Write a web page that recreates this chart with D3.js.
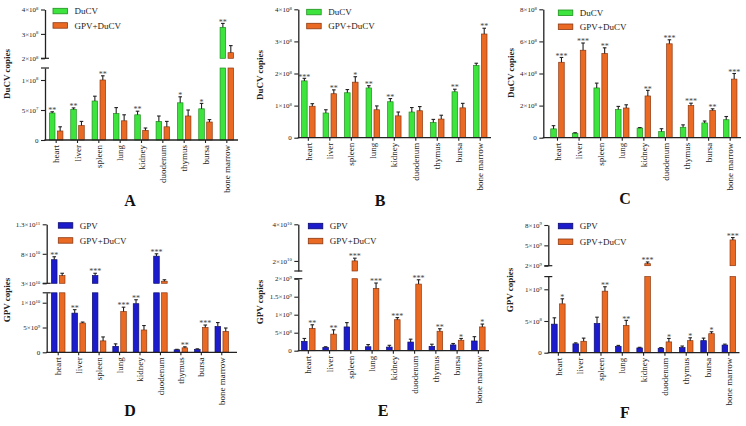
<!DOCTYPE html>
<html><head><meta charset="utf-8">
<script src="https://cdn.jsdelivr.net/npm/d3@7"></script>
<style>body{margin:0;background:#fff;} svg{display:block;font-family:"Liberation Serif","DejaVu Serif",serif;}</style>
</head><body>
<svg id="chart" width="746" height="426"></svg>
<script>
// ---------- DATA ----------
const organs = ["heart","liver","spleen","lung","kidney","duodenum","thymus","bursa","bone marrow"];

// Panel A (DuCV copies)
const aDuCV    = [4.5e7, 5.1e7, 6.5e7, 4.4e7, 4.2e7, 3.1e7, 6.2e7, 5.2e7, 3.27e8];
const aDuCVErr = [0.2e7, 0.25e7, 0.8e7, 1.0e7, 0.6e7, 0.9e7, 1.0e7, 0.9e7, 0.16e8];
const aCo      = [1.5e7, 2.4e7, 1.0e8, 3.2e7, 1.6e7, 2.2e7, 4.0e7, 3.0e7, 2.23e8];
const aCoErr   = [0.7e7, 0.7e7, 0.07e8, 1.0e7, 0.4e7, 0.9e7, 1.0e7, 0.4e7, 0.29e8];
const aSig1    = ["**","**","","","**","","*","*","**"];
const aSig2    = ["","","**","","","","","",""];
const aTicksLower = [0, 5e7, 1e8];
const aTicksUpper = [2e8, 3e8, 4e8];

// Panel B (DuCV copies)
const bDuCV    = [1.77e8, 0.77e8, 1.4e8, 1.55e8, 1.12e8, 0.8e8, 0.47e8, 1.43e8, 2.25e8];
const bDuCVErr = [0.08e8, 0.1e8, 0.1e8, 0.07e8, 0.1e8, 0.14e8, 0.1e8, 0.08e8, 0.07e8];
const bCo      = [0.98e8, 1.37e8, 1.73e8, 0.87e8, 0.68e8, 0.84e8, 0.58e8, 0.93e8, 3.23e8];
const bCoErr   = [0.08e8, 0.12e8, 0.17e8, 0.12e8, 0.12e8, 0.13e8, 0.12e8, 0.14e8, 0.18e8];
const bSig1    = ["***","","","**","**","","","**",""];
const bSig2    = ["","**","*","","","","","","**"];
const bTicks   = [0, 1e8, 2e8, 3e8, 4e8];

// Panel C (DuCV copies)
const cDuCV    = [0.55e8, 0.28e8, 3.1e8, 1.75e8, 0.6e8, 0.38e8, 0.65e8, 0.92e8, 1.12e8];
const cDuCVErr = [0.2e8, 0.03e8, 0.3e8, 0.2e8, 0.03e8, 0.18e8, 0.15e8, 0.12e8, 0.2e8];
const cCo      = [4.7e8, 5.45e8, 5.25e8, 1.85e8, 2.6e8, 5.85e8, 2.0e8, 1.7e8, 3.65e8];
const cCoErr   = [0.3e8, 0.45e8, 0.35e8, 0.2e8, 0.35e8, 0.25e8, 0.15e8, 0.1e8, 0.35e8];
const cSig1    = ["","","","","","","","",""];
const cSig2    = ["***","***","**","","**","***","***","**","***"];
const cTicks   = [0, 2e8, 4e8, 6e8, 8e8];

// Panel D (GPV copies)
const dGPV     = [7.0e10, 7.9e9, 4.3e10, 1.2e9, 9.8e9, 7.6e10, 0.5e9, 0.6e9, 5.2e9];
const dGPVErr  = [0.5e10, 0.7e9, 0.4e10, 0.5e9, 0.8e9, 0.4e10, 0.1e9, 0.1e9, 0.8e9];
const dCo      = [4.3e10, 5.9e9, 2.3e9, 8.2e9, 4.5e9, 3.35e10, 0.9e9, 5.0e9, 4.2e9];
const dCoErr   = [0.4e10, 0.2e9, 0.8e9, 0.9e9, 0.9e9, 0.25e10, 0.2e9, 0.5e9, 0.7e9];
const dSig1    = ["**","**","***","","**","***","","",""];
const dSig2    = ["","","","***","","","**","***",""];
const dTicksLower = [0, 5e9, 1e10];
const dTicksUpper = [3e10, 8e10, 1.3e11];

// Panel E (GPV copies)
const eGPV     = [2.6e8, 0.9e8, 6.6e8, 1.1e8, 1.0e8, 2.4e8, 1.2e8, 1.6e8, 2.7e8];
const eGPVErr  = [0.8e8, 0.2e8, 1.2e8, 0.6e8, 0.5e8, 0.8e8, 0.6e8, 0.4e8, 1.2e8];
const eCo      = [6.2e8, 4.6e8, 2.0e10, 1.73e9, 8.6e8, 1.85e9, 5.4e8, 2.9e8, 6.6e8];
const eCoErr   = [1.0e8, 1.2e8, 0.15e10, 1.5e8, 0.6e8, 1.2e8, 0.7e8, 0.5e8, 0.8e8];
const eSig1    = ["","","","","","","","",""];
const eSig2    = ["**","**","***","***","***","***","**","*","*"];
const eTicksLower = [0, 5e8, 1e9, 1.5e9, 2e9];
const eTicksUpper = [2e10, 4e10];

// Panel F (GPV copies)
const fGPV     = [4.5e8, 1.4e8, 4.6e8, 1.0e8, 0.75e8, 0.7e8, 0.8e8, 1.9e8, 1.2e8];
const fGPVErr  = [1.0e8, 0.15e8, 1.0e8, 0.15e8, 0.1e8, 0.1e8, 0.25e8, 0.4e8, 0.15e8];
const fCo      = [7.7e8, 1.8e8, 9.7e8, 4.3e8, 2.3e9, 1.7e8, 1.9e8, 3.0e8, 5.8e9];
const fCoErr   = [0.8e8, 0.5e8, 0.7e8, 0.8e8, 0.25e9, 0.55e8, 0.45e8, 0.3e8, 0.35e9];
const fSig1    = ["","","","","","","","",""];
const fSig2    = ["*","","**","**","***","*","*","*","***"];
const fTicksLower = [0, 5e8, 1e9];
const fTicksUpper = [2e9, 5e9, 8e9];

// ---------- STYLE ----------
const GREEN = {fill:"#3ee43e", stroke:"#1f8f1f"};
const ORANGE = {fill:"#ea6a24", stroke:"#8c3812"};
const BLUE = {fill:"#1c1ccc", stroke:"#0b0b6e"};
const INK = "#222";

// ---------- LAYOUT ----------
const panels = [
  {letter:"A", yx:45, band:[45.5,237.5], axisEnd:238,
   lowerDom:[0,1.2e8], lowerRange:[140,68], upperDom:[2e8,4e8], upperRange:[58.3,9.5],
   ticksLower:aTicksLower, ticksUpper:aTicksUpper,
   title:"DuCV copies", titlePos:[7,74], letterPos:[130,206], legX:53, legY:[8.3,22.7],
   series:[{name:"DuCV", v:aDuCV, e:aDuCVErr, s:aSig1, c:GREEN},{name:"GPV+DuCV", v:aCo, e:aCoErr, s:aSig2, c:ORANGE}]},
  {letter:"B", yx:298.3, band:[297.6,491], axisEnd:491,
   lowerDom:[0,4e8], lowerRange:[137.7,9.3], ticksLower:bTicks,
   title:"DuCV copies", titlePos:[259.5,75], letterPos:[380,206], legX:306.7, legY:[9.3,23.3],
   series:[{name:"DuCV", v:bDuCV, e:bDuCVErr, s:bSig1, c:GREEN},{name:"GPV+DuCV", v:bCo, e:bCoErr, s:bSig2, c:ORANGE}]},
  {letter:"C", yx:543.3, band:[546.7,741], axisEnd:741,
   lowerDom:[0,8e8], lowerRange:[137.7,9.3], ticksLower:cTicks,
   title:"DuCV copies", titlePos:[511,73], letterPos:[625,204], legX:558.3, legY:[10,24],
   series:[{name:"DuCV", v:cDuCV, e:cDuCVErr, s:cSig1, c:GREEN},{name:"GPV+DuCV", v:cCo, e:cCoErr, s:cSig2, c:ORANGE}]},
  {letter:"D", yx:46.7, band:[48,232], axisEnd:237,
   lowerDom:[0,1.2e10], lowerRange:[352.3,292.8], upperDom:[3e10,1.3e11], upperRange:[283.3,224.3],
   ticksLower:dTicksLower, ticksUpper:dTicksUpper,
   title:"GPV copies", titlePos:[7,300], letterPos:[130,416], legX:58.3, legY:[222.7,237.7],
   series:[{name:"GPV", v:dGPV, e:dGPVErr, s:dSig1, c:BLUE},{name:"GPV+DuCV", v:dCo, e:dCoErr, s:dSig2, c:ORANGE}]},
  {letter:"E", yx:298.3, band:[297.7,489], axisEnd:489,
   lowerDom:[0,2e9], lowerRange:[350.7,278.7], upperDom:[1.45e10,4e10], upperRange:[271,224.3],
   ticksLower:eTicksLower, ticksUpper:eTicksUpper,
   title:"GPV copies", titlePos:[259.5,302], letterPos:[383,416], legX:308.3, legY:[223.3,238.3],
   series:[{name:"GPV", v:eGPV, e:eGPVErr, s:eSig1, c:BLUE},{name:"GPV+DuCV", v:eCo, e:eCoErr, s:eSig2, c:ORANGE}]},
  {letter:"F", yx:548.3, band:[547.7,739.5], axisEnd:739.5,
   lowerDom:[0,1.2e9], lowerRange:[352.7,276.6], upperDom:[2e9,8e9], upperRange:[265.7,225],
   ticksLower:fTicksLower, ticksUpper:fTicksUpper,
   title:"GPV copies", titlePos:[510,290], letterPos:[625,418], legX:558.3, legY:[223.3,239],
   series:[{name:"GPV", v:fGPV, e:fGPVErr, s:fSig1, c:BLUE},{name:"GPV+DuCV", v:fCo, e:fCoErr, s:fSig2, c:ORANGE}]}
];

const svg = d3.select("#chart");

function sciLabel(textSel, d) {
  textSel.text(null);
  if (d === 0) { textSel.text("0"); return; }
  const e = Math.floor(Math.log10(d) + 1e-9);
  const m = +(d / Math.pow(10, e)).toFixed(1);
  textSel.append("tspan").text(m + "×10");
  textSel.append("tspan").attr("dy", "-0.5em").attr("font-size", "4.8px").text(e);
}

function styleYAxis(g) {
  g.select(".domain").attr("stroke", INK).attr("stroke-width", 1.3);
  g.selectAll(".tick line").attr("stroke", INK).attr("stroke-width", 1.1);
  g.selectAll(".tick text").attr("font-size", "7px").attr("fill", INK)
    .attr("font-family", "'Liberation Serif','DejaVu Serif',serif")
    .each(function(d){ sciLabel(d3.select(this), d); });
}

function drawPanel(p) {
  const g = svg.append("g");
  const x = d3.scaleBand().domain(organs).range(p.band).paddingInner(0).paddingOuter(0);
  const sub = d3.scaleBand().domain([0,1]).range([-6.75,6.75]).paddingInner(0.3);
  const yL = d3.scaleLinear().domain(p.lowerDom).range(p.lowerRange);
  const yU = p.upperDom ? d3.scaleLinear().domain(p.upperDom).range(p.upperRange) : null;
  const yPos = v => (yU && v > p.lowerDom[1]) ? yU(Math.max(v, p.upperDom[0])) : yL(v);

  // bars, error bars, significance marks
  p.series.forEach((s, si) => {
    const bw = sub.bandwidth();
    s.v.forEach((v, i) => {
      const cx = x(organs[i]) + x.bandwidth()/2;
      const bx = cx + sub(si);
      const vl = Math.min(v, p.lowerDom[1]);
      g.append("rect").attr("x", bx).attr("y", yL(vl)).attr("width", bw)
        .attr("height", yL(0) - yL(vl)).attr("fill", s.c.fill)
        .attr("stroke", s.c.stroke).attr("stroke-width", 0.7);
      if (yU && v > p.lowerDom[1]) {
        g.append("rect").attr("x", bx).attr("y", yU(v)).attr("width", bw)
          .attr("height", yU(p.upperDom[0]) - yU(v)).attr("fill", s.c.fill)
          .attr("stroke", s.c.stroke).attr("stroke-width", 0.7);
      }
      const mx = bx + bw/2;
      const y1 = yPos(v), y2 = yPos(v + s.e[i]);
      g.append("line").attr("x1", mx).attr("x2", mx).attr("y1", y1).attr("y2", y2)
        .attr("stroke", INK).attr("stroke-width", 1.1);
      g.append("line").attr("x1", mx-1.8).attr("x2", mx+1.8).attr("y1", y2).attr("y2", y2)
        .attr("stroke", INK).attr("stroke-width", 1.1);
      if (s.s[i]) {
        g.append("text").attr("x", mx).attr("y", y2 + 1.2).attr("text-anchor", "middle")
          .attr("font-size", "8px").attr("fill", "#444").text(s.s[i]);
      }
    });
  });

  // y axes (broken where needed)
  const ga = g.append("g").attr("transform", `translate(${p.yx},0)`)
    .call(d3.axisLeft(yL).tickValues(p.ticksLower).tickSize(4).tickSizeOuter(0).tickPadding(2.5));
  styleYAxis(ga);
  if (yU) {
    const gu = g.append("g").attr("transform", `translate(${p.yx},0)`)
      .call(d3.axisLeft(yU).tickValues(p.ticksUpper).tickSize(4).tickSizeOuter(0).tickPadding(2.5));
    styleYAxis(gu);
    [yL(p.lowerDom[1]), yU(p.upperDom[0])].forEach(yy => {
      g.append("line").attr("x1", p.yx-4).attr("x2", p.yx+4).attr("y1", yy).attr("y2", yy)
        .attr("stroke", INK).attr("stroke-width", 1.2);
    });
  }

  // x axis
  const axisY = yL(0);
  const gx = g.append("g").attr("transform", `translate(0,${axisY})`)
    .call(d3.axisBottom(x).tickSize(3).tickSizeOuter(0).tickFormat(""));
  gx.select(".domain").remove();
  gx.selectAll(".tick line").attr("stroke", INK).attr("stroke-width", 1.1);
  g.append("line").attr("x1", p.yx - 0.6).attr("x2", p.axisEnd).attr("y1", axisY).attr("y2", axisY)
    .attr("stroke", INK).attr("stroke-width", 1.3);
  g.selectAll(null).data(organs).enter().append("text")
    .attr("transform", d => `translate(${x(d) + x.bandwidth()/2},${axisY + 5}) rotate(-90)`)
    .attr("text-anchor", "end").attr("dy", "0.35em")
    .attr("font-size", "9px").attr("fill", INK).text(d => d);

  // y title
  g.append("text").attr("transform", `translate(${p.titlePos[0]},${p.titlePos[1]}) rotate(-90)`)
    .attr("text-anchor", "middle").attr("dy", "0.35em").attr("font-size", "9px")
    .attr("font-weight", "bold").attr("fill", INK).text(p.title);

  // legend
  p.series.forEach((s, si) => {
    const ly = p.legY[si];
    g.append("rect").attr("x", p.legX).attr("y", ly).attr("width", 14.5).attr("height", 5.5)
      .attr("fill", s.c.fill).attr("stroke", s.c.stroke).attr("stroke-width", 0.8);
    g.append("text").attr("x", p.legX + 21.5).attr("y", ly + 2.75).attr("dy", "0.35em")
      .attr("font-size", "9px").attr("fill", INK).text(s.name);
  });

  // panel letter
  g.append("text").attr("x", p.letterPos[0]).attr("y", p.letterPos[1]).attr("text-anchor", "middle")
    .attr("font-size", "16px").attr("font-weight", "bold").attr("fill", "#111").text(p.letter);
}

panels.forEach(drawPanel);
</script>
</body></html>
